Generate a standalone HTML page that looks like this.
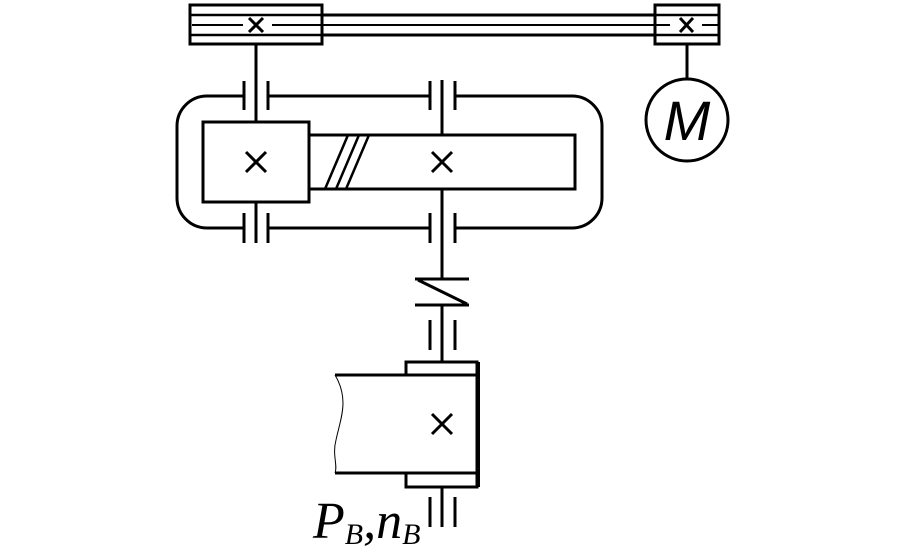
<!DOCTYPE html>
<html><head><style>body{margin:0;background:#fff}svg{display:block}</style></head><body>
<svg width="901" height="555" viewBox="0 0 901 555" xmlns="http://www.w3.org/2000/svg">
<g stroke="#000" stroke-width="3" fill="none">
<rect x="190" y="5" width="132" height="39"/>
<rect x="655" y="5" width="64" height="39"/>
<line x1="322" y1="15" x2="655" y2="15"/>
<line x1="322" y1="35" x2="655" y2="35"/>
<line x1="190" y1="15" x2="322" y2="15" stroke-width="2.5"/>
<line x1="190" y1="35" x2="322" y2="35" stroke-width="2.5"/>
<line x1="655" y1="15" x2="719" y2="15" stroke-width="2.5"/>
<line x1="655" y1="35" x2="719" y2="35" stroke-width="2.5"/>
<line x1="192" y1="25" x2="243" y2="25" stroke-width="2"/>
<line x1="272" y1="25" x2="670" y2="25" stroke-width="2"/>
<line x1="702" y1="25" x2="718" y2="25" stroke-width="2"/>
<path d="M249 18 L263 32 M263 18 L249 32"/>
<path d="M680 18 L693 32 M693 18 L680 32"/>
<line x1="687" y1="44" x2="687" y2="79"/>
<circle cx="687" cy="120" r="41"/>
<path d="M244 96 H207 A30 30 0 0 0 177 126 V198 A30 30 0 0 0 207 228 H244"/>
<path d="M269 96 H430"/><path d="M455 96 H572 A30 30 0 0 1 602 126 V198 A30 30 0 0 1 572 228 H455"/>
<path d="M269 228 H430"/>
<line x1="244" y1="81" x2="244" y2="110"/><line x1="268" y1="81" x2="268" y2="110"/>
<line x1="430" y1="81" x2="430" y2="110"/><line x1="455" y1="81" x2="455" y2="110"/>
<line x1="244" y1="213" x2="244" y2="243"/><line x1="268" y1="213" x2="268" y2="243"/>
<line x1="430" y1="213" x2="430" y2="243"/><line x1="455" y1="213" x2="455" y2="243"/>
<line x1="256" y1="44" x2="256" y2="122"/>
<line x1="256" y1="202" x2="256" y2="243"/>
<line x1="442" y1="80" x2="442" y2="135"/>
<line x1="442" y1="189" x2="442" y2="280"/>
<rect x="203" y="122" width="106" height="80"/>
<rect x="309" y="135" width="266" height="54"/>
<g stroke-width="2.5"><line x1="325" y1="189" x2="348" y2="135"/><line x1="336" y1="189" x2="359" y2="135"/><line x1="346" y1="189" x2="369" y2="135"/></g>
<path d="M246 152 L266 172 M266 152 L246 172"/>
<path d="M432 152 L452 172 M452 152 L432 172"/>
<line x1="415" y1="279" x2="469" y2="279"/>
<line x1="415" y1="305" x2="469" y2="305"/>
<line x1="418" y1="280" x2="467" y2="304"/>
<line x1="442" y1="305" x2="442" y2="362"/>
<line x1="430" y1="320" x2="430" y2="350"/><line x1="455" y1="320" x2="455" y2="350"/>
<path d="M406 375 V362 H477 V487 H406 V473"/>
<line x1="479" y1="362" x2="479" y2="487" stroke-width="2"/>
<line x1="335" y1="375" x2="478" y2="375"/>
<line x1="335" y1="473" x2="478" y2="473"/>
<path d="M335 375 C350 400, 340 420, 336 440 C332 455, 338 465, 335 473" stroke-width="1"/>
<path d="M432 414 L452 434 M452 414 L432 434"/>
<line x1="442" y1="487" x2="442" y2="527"/>
<line x1="430" y1="497" x2="430" y2="527"/><line x1="455" y1="497" x2="455" y2="527"/>
</g>
<text x="687" y="140" font-family="Liberation Sans, sans-serif" font-style="italic" font-size="56" text-anchor="middle">M</text>
<text x="313" y="538" font-family="Liberation Serif, serif" font-style="italic" font-size="52">P<tspan font-size="30" dy="6">B</tspan><tspan dy="-6">,n</tspan><tspan font-size="30" dy="6">B</tspan></text>
</svg>
</body></html>
